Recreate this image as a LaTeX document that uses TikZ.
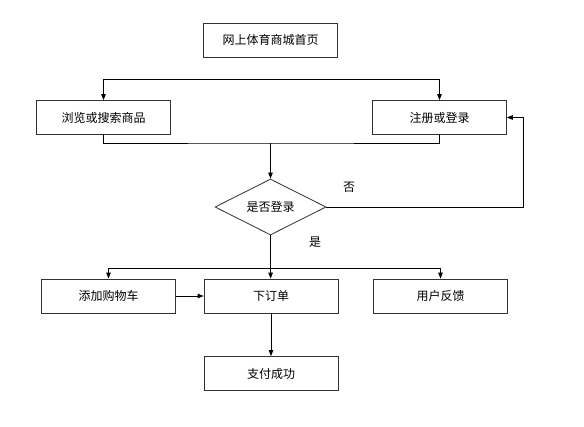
\documentclass[tikz,border=0pt]{standalone}
\usepackage{fontspec}
\setmainfont{Noto Sans CJK SC}
\usepackage{tikz}
\usetikzlibrary{arrows.meta,positioning,shapes.geometric,calc}
\tikzset{
  box/.style={draw=gray!40!black, rectangle, align=center, minimum width=134pt, minimum height=34pt, inner sep=1mm},
  decision/.style={draw=gray!40!black, diamond, aspect=2, minimum width=111pt, minimum height=56pt, inner sep=0.5mm},
  arr/.style={-{Triangle[length=6pt,width=4.5pt]}, line width=0.8pt},
  plain/.style={line width=0.8pt}
}

\begin{document}
\begin{tikzpicture}[x=1pt, y=-1pt, font=\fontsize{12}{14}\selectfont, line width=0.8pt]
\useasboundingbox (0,0) rectangle (584,426);
\node[box] (home) at (270.5,40) {网上体育商城首页};
\node[box] (browse) at (103.5,117.5) {浏览或搜索商品};
\node[box] (login) at (439.5,117.5) {注册或登录};
\node[decision] (check) at (270.5,207) {是否登录};
\node[box] (cart) at (108.5,296) {添加购物车};
\node[box] (order) at (271,296) {下订单};
\node[box] (feedback) at (440.5,296) {用户反馈};
\node[box] (pay) at (271,373.5) {支付成功};

\coordinate (topbar) at (270.5,79);
\coordinate (midbar) at (270.5,143);
\coordinate (yesbar) at (270.5,268);
\coordinate (noturn) at (523,207);

\node (nolabel) at (349,187) {否};
\node (yeslabel) at (315,242) {是};

\draw[arr] (topbar) -| (browse);
\draw[arr] (topbar) -| (login);
\draw[plain] (browse.south) |- (midbar) -| (login.south);
\draw[arr] (midbar) -- (check);
\draw[arr] (check.east) -- (noturn) |- (login.east);
\draw[plain] (check.south) -- (yesbar);
\draw[arr] (yesbar) -| (cart);
\draw[arr] (yesbar) -- (order);
\draw[arr] (yesbar) -| (feedback);
\draw[arr] (cart) -- (order);
\draw[arr] (order) -- (pay);
\end{tikzpicture}
\end{document}
